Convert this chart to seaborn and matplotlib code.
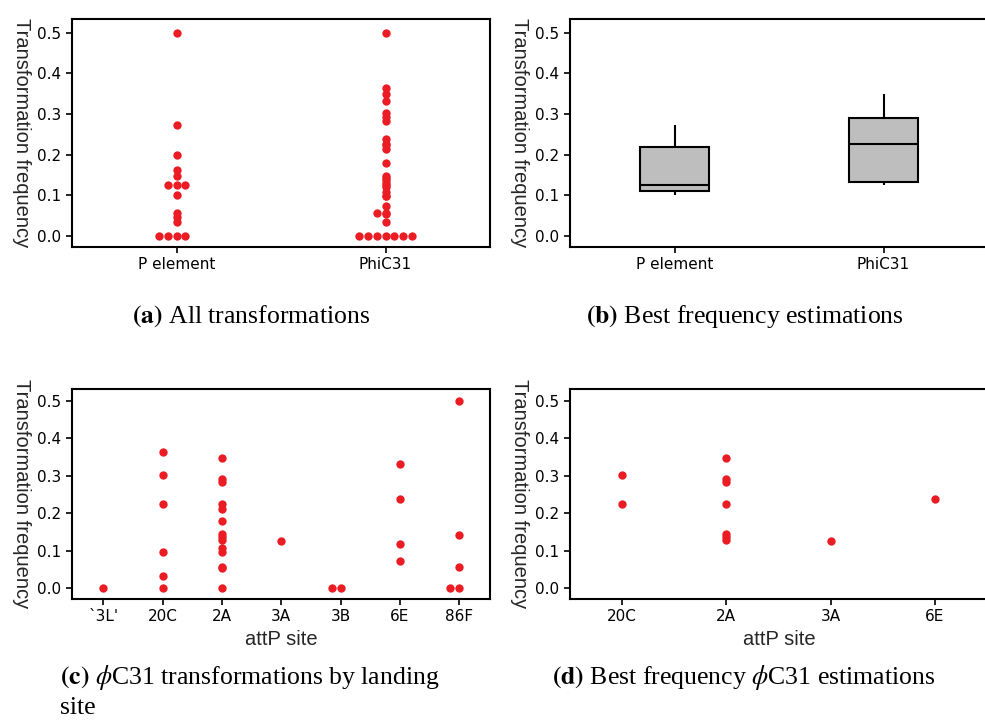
import numpy as np
import pandas as pd
import matplotlib
matplotlib.use("Agg")
import matplotlib.pyplot as plt
import seaborn as sns

# ---------------- data ----------------
methods = ["P element", "PhiC31"]

p_element_all = [0.5, 0.273, 0.198, 0.163, 0.148, 0.125, 0.125, 0.125, 0.1,
                 0.056, 0.045, 0.033, 0.0, 0.0, 0.0, 0.0]

site_labels = ["`3L'", "20C", "2A", "3A", "3B", "6E", "86F"]
site_3L = [0.0]
site_20C = [0.365, 0.303, 0.226, 0.098, 0.034, 0.0]
site_2A = [0.348, 0.293, 0.283, 0.224, 0.213, 0.180, 0.146, 0.138, 0.129,
           0.107, 0.097, 0.057, 0.053, 0.0]
site_3A = [0.125]
site_3B = [0.0, 0.0]
site_6E = [0.332, 0.238, 0.119, 0.073]
site_86F = [0.5, 0.141, 0.057, 0.0, 0.0]

best_labels = ["20C", "2A", "3A", "6E"]
best_20C = [0.303, 0.225]
best_2A = [0.348, 0.293, 0.283, 0.225, 0.145, 0.138, 0.128]
best_3A = [0.125]
best_6E = [0.238]

# five-number summaries of the best estimates (whisker low, Q1, median, Q3, whisker high)
box_p_element = [0.100, 0.110, 0.125, 0.218, 0.273]
box_phic31 = [0.124, 0.133, 0.226, 0.291, 0.348]

# ---------------- tables ----------------
site_values = [site_3L, site_20C, site_2A, site_3A, site_3B, site_6E, site_86F]
phic31_all = [v for vals in site_values for v in vals]

df_a = pd.DataFrame({
    "cat": [methods[0]] * len(p_element_all) + [methods[1]] * len(phic31_all),
    "freq": p_element_all + phic31_all,
})
df_b = pd.DataFrame({
    "cat": [methods[0]] * len(box_p_element) + [methods[1]] * len(box_phic31),
    "freq": box_p_element + box_phic31,
})
df_c = pd.DataFrame({
    "cat": [lab for lab, vals in zip(site_labels, site_values) for _ in vals],
    "freq": phic31_all,
})
best_values = [best_20C, best_2A, best_3A, best_6E]
df_d = pd.DataFrame({
    "cat": [lab for lab, vals in zip(best_labels, best_values) for _ in vals],
    "freq": [v for vals in best_values for v in vals],
})

# ---------------- style ----------------
sns.set_style("ticks")
plt.rcParams["font.family"] = ["DejaVu Sans"]
plt.rcParams["mathtext.fontset"] = "stix"
plt.rcParams["axes.linewidth"] = 1.5

RED = "#ec1c24"
W, H = 985, 722
fig = plt.figure(figsize=(W / 100, H / 100), dpi=100)


def px_axes(left, top, right, bottom):
    return fig.add_axes([left / W, 1 - bottom / H, (right - left) / W, (bottom - top) / H])


ax_a = px_axes(72, 19, 490, 247)
ax_b = px_axes(570, 19, 988, 247)
ax_c = px_axes(72, 389, 490, 599)
ax_d = px_axes(570, 389, 988, 599)


def dots(df, order, ax):
    tied = df.duplicated(subset=["cat", "freq"], keep=False)
    if tied.any():
        sns.swarmplot(data=df[tied], x="cat", y="freq", order=order, color=RED,
                      size=6, linewidth=0, ax=ax)
    sns.stripplot(data=df[~tied], x="cat", y="freq", order=order, color=RED,
                  size=6, linewidth=0, jitter=False, ax=ax)


dots(df_a, methods, ax_a)
sns.boxplot(data=df_b, x="cat", y="freq", order=methods, color="#bebebe",
            saturation=1, width=0.33, showcaps=False, showfliers=False,
            linecolor="black", linewidth=1.5, ax=ax_b)
dots(df_c, site_labels, ax_c)
dots(df_d, best_labels, ax_d)

label_font = dict(family="Liberation Sans", size=14.5)
for ax, ylim in [(ax_a, (-0.028, 0.534)), (ax_b, (-0.028, 0.534)),
                 (ax_c, (-0.0285, 0.532)), (ax_d, (-0.0285, 0.532))]:
    ax.set_ylim(*ylim)
    ax.set_yticks([0.0, 0.1, 0.2, 0.3, 0.4, 0.5])
    ax.set_yticklabels(["0.0", "0.1", "0.2", "0.3", "0.4", "0.5"])
    for s in ax.spines.values():
        s.set_visible(True)
        s.set_linewidth(1.5)
        s.set_color("black")
    ax.tick_params(direction="out", length=4, width=1.2, labelsize=11,
                   colors="black", top=False, right=False)
    ax.set_ylabel("Transformation frequency", rotation=-90, va="center",
                  ha="center", **label_font)
    ax.yaxis.set_label_coords(-0.122, 0.5)
    ax.grid(False)

ax_a.set_xlim(-0.5, 1.5)
ax_b.set_xlim(-0.5, 1.5)
ax_c.set_xlim(-0.53, 6.52)
ax_d.set_xlim(-0.5, 3.51)
ax_a.set_xlabel("")
ax_b.set_xlabel("")
ax_c.set_xlabel("attP site", **label_font)
ax_d.set_xlabel("attP site", **label_font)

cap = dict(family="Liberation Serif", size=18.5, color="black")
fig.text(251 / W, 1 - 316 / H, r"$\mathbf{(a)}$ All transformations",
         ha="center", va="center", **cap)
fig.text(745 / W, 1 - 316 / H, r"$\mathbf{(b)}$ Best frequency estimations",
         ha="center", va="center", **cap)
fig.text(60 / W, 1 - 677 / H, r"$\mathbf{(c)}$ $\phi$C31 transformations by landing",
         ha="left", va="center", **cap)
fig.text(60 / W, 1 - 708 / H, "site", ha="left", va="center", **cap)
fig.text(552 / W, 1 - 677 / H, r"$\mathbf{(d)}$ Best frequency $\phi$C31 estimations",
         ha="left", va="center", **cap)

fig.savefig("out.png", dpi=100)
